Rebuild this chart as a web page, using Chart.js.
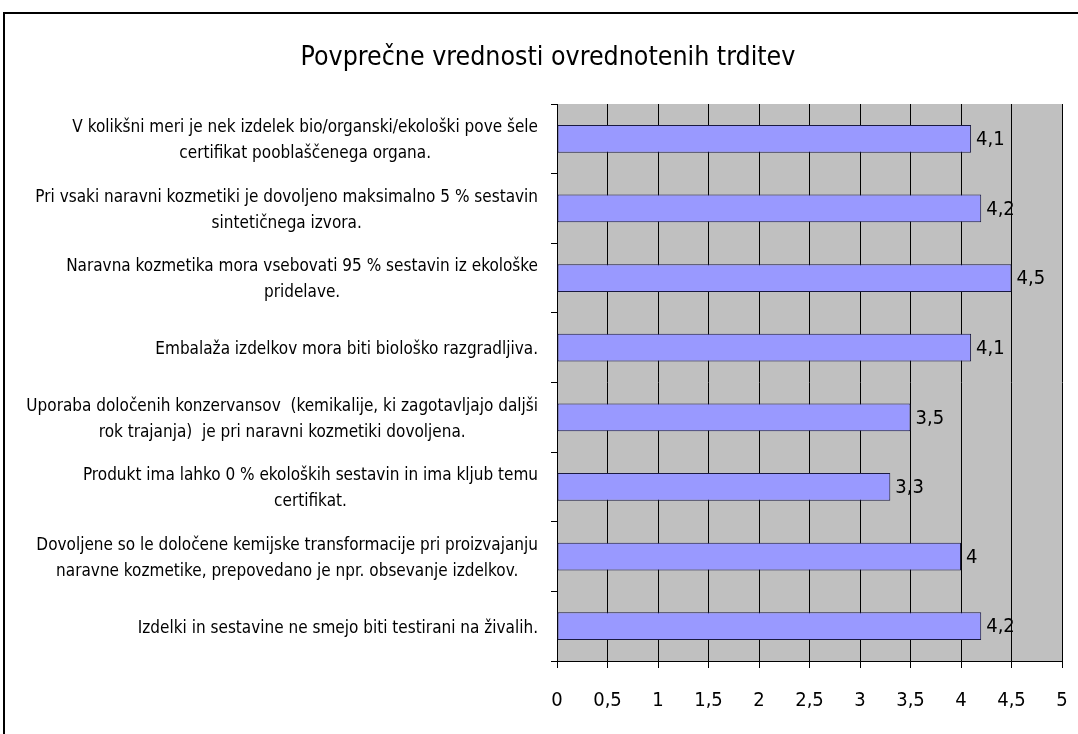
<!DOCTYPE html>
<html>
<head>
<meta charset="utf-8">
<script src="https://cdn.jsdelivr.net/npm/chart.js@4/dist/chart.umd.min.js"></script>
<style>
  html, body { margin: 0; padding: 0; background: #fff; }
  #wrap { width: 1078px; height: 734px; }
</style>
</head>
<body>
<div id="wrap"><canvas id="chart" width="1078" height="734"></canvas></div>
<script>
'use strict';

const chartTitle = 'Povprečne vrednosti ovrednotenih trditev';

const categories = [
  ['V kolikšni meri je nek izdelek bio/organski/ekološki pove šele', 'certifikat pooblaščenega organa.'],
  ['Pri vsaki naravni kozmetiki je dovoljeno maksimalno 5 % sestavin', 'sintetičnega izvora.'],
  ['Naravna kozmetika mora vsebovati 95 % sestavin iz ekološke', 'pridelave.'],
  ['Embalaža izdelkov mora biti biološko razgradljiva.'],
  ['Uporaba določenih konzervansov  (kemikalije, ki zagotavljajo daljši', 'rok trajanja)  je pri naravni kozmetiki dovoljena.'],
  ['Produkt ima lahko 0 % ekoloških sestavin in ima kljub temu', 'certifikat.'],
  ['Dovoljene so le določene kemijske transformacije pri proizvajanju', 'naravne kozmetike, prepovedano je npr. obsevanje izdelkov.'],
  ['Izdelki in sestavine ne smejo biti testirani na živalih.'],
];

const values = [4.1, 4.2, 4.5, 4.1, 3.5, 3.3, 4, 4.2];

const xMin = 0;
const xMax = 5;
const xStep = 0.5;

const FONT = '"DejaVu Sans Condensed", "DejaVu Sans", sans-serif';
const fmt = v => String(v).replace('.', ',');

const frameAndBg = {
  id: 'frameAndBg',
  beforeDraw(chart) {
    const { ctx, chartArea: a } = chart;
    ctx.save();
    ctx.fillStyle = '#fff';
    ctx.fillRect(0, 0, chart.width, chart.height);
    ctx.fillStyle = '#C0C0C0';
    ctx.fillRect(a.left, a.top, a.right - a.left, a.bottom - a.top);
    ctx.strokeStyle = '#000';
    ctx.lineWidth = 2;
    ctx.strokeRect(4, 13, 1200, 1000);
    ctx.restore();
  },
  afterDraw(chart) {
    const { ctx } = chart;
    const y = chart.scales.y;
    ctx.save();
    ctx.fillStyle = '#000';
    // title
    ctx.font = '26.5px ' + FONT;
    ctx.textAlign = 'center';
    ctx.textBaseline = 'middle';
    ctx.fillText(chartTitle, 548, 58);
    // category labels: lines centred, block right-aligned next to the axis
    ctx.font = '17px ' + FONT;
    const lh = 26;
    categories.forEach((lines, i) => {
      const cy = y.getPixelForValue(i);
      const w = Math.max(...lines.map(l => ctx.measureText(l).width));
      const cx = 538 - w / 2;
      const y0 = cy - (lines.length - 1) * lh / 2 + 2;
      lines.forEach((l, k) => ctx.fillText(l, cx, y0 + k * lh));
    });
    ctx.restore();
  },
};

const barValues = {
  id: 'barValues',
  afterDatasetsDraw(chart) {
    const { ctx } = chart;
    const meta = chart.getDatasetMeta(0);
    ctx.save();
    ctx.font = '20px ' + FONT;
    ctx.fillStyle = '#000';
    ctx.textAlign = 'left';
    ctx.textBaseline = 'middle';
    meta.data.forEach((bar, i) => {
      ctx.fillText(fmt(values[i]), bar.x + 5, bar.y + 1);
    });
    ctx.restore();
  },
};

new Chart(document.getElementById('chart'), {
  type: 'bar',
  data: {
    labels: categories,
    datasets: [{
      data: values,
      backgroundColor: '#9999FF',
      borderColor: '#1a1a40',
      borderWidth: 1,
      borderSkipped: false,
      barPercentage: 0.4,
      categoryPercentage: 1,
    }],
  },
  options: {
    indexAxis: 'y',
    responsive: false,
    animation: false,
    events: [],
    layout: { padding: { top: 104, bottom: 0, left: 0, right: 16 } },
    plugins: {
      legend: { display: false },
      title: { display: false },
      tooltip: { enabled: false },
    },
    scales: {
      x: {
        min: xMin,
        max: xMax,
        ticks: {
          stepSize: xStep,
          padding: 21,
          color: '#000',
          font: { family: FONT, size: 20 },
          maxRotation: 0,
          autoSkip: false,
          callback: v => fmt(v),
        },
        grid: { color: '#000', lineWidth: 1, tickLength: 7, drawTicks: true },
        border: { color: '#000', width: 1 },
        afterFit: s => { s.height = 73; s.paddingLeft = 0; s.paddingRight = 0; },
      },
      y: {
        offset: true,
        ticks: { display: false },
        grid: { offset: true, drawOnChartArea: false, color: '#000', tickLength: 6 },
        border: { color: '#000', width: 1 },
        afterFit: s => { s.width = 557; },
      },
    },
  },
  plugins: [frameAndBg, barValues],
});
</script>
</body>
</html>
